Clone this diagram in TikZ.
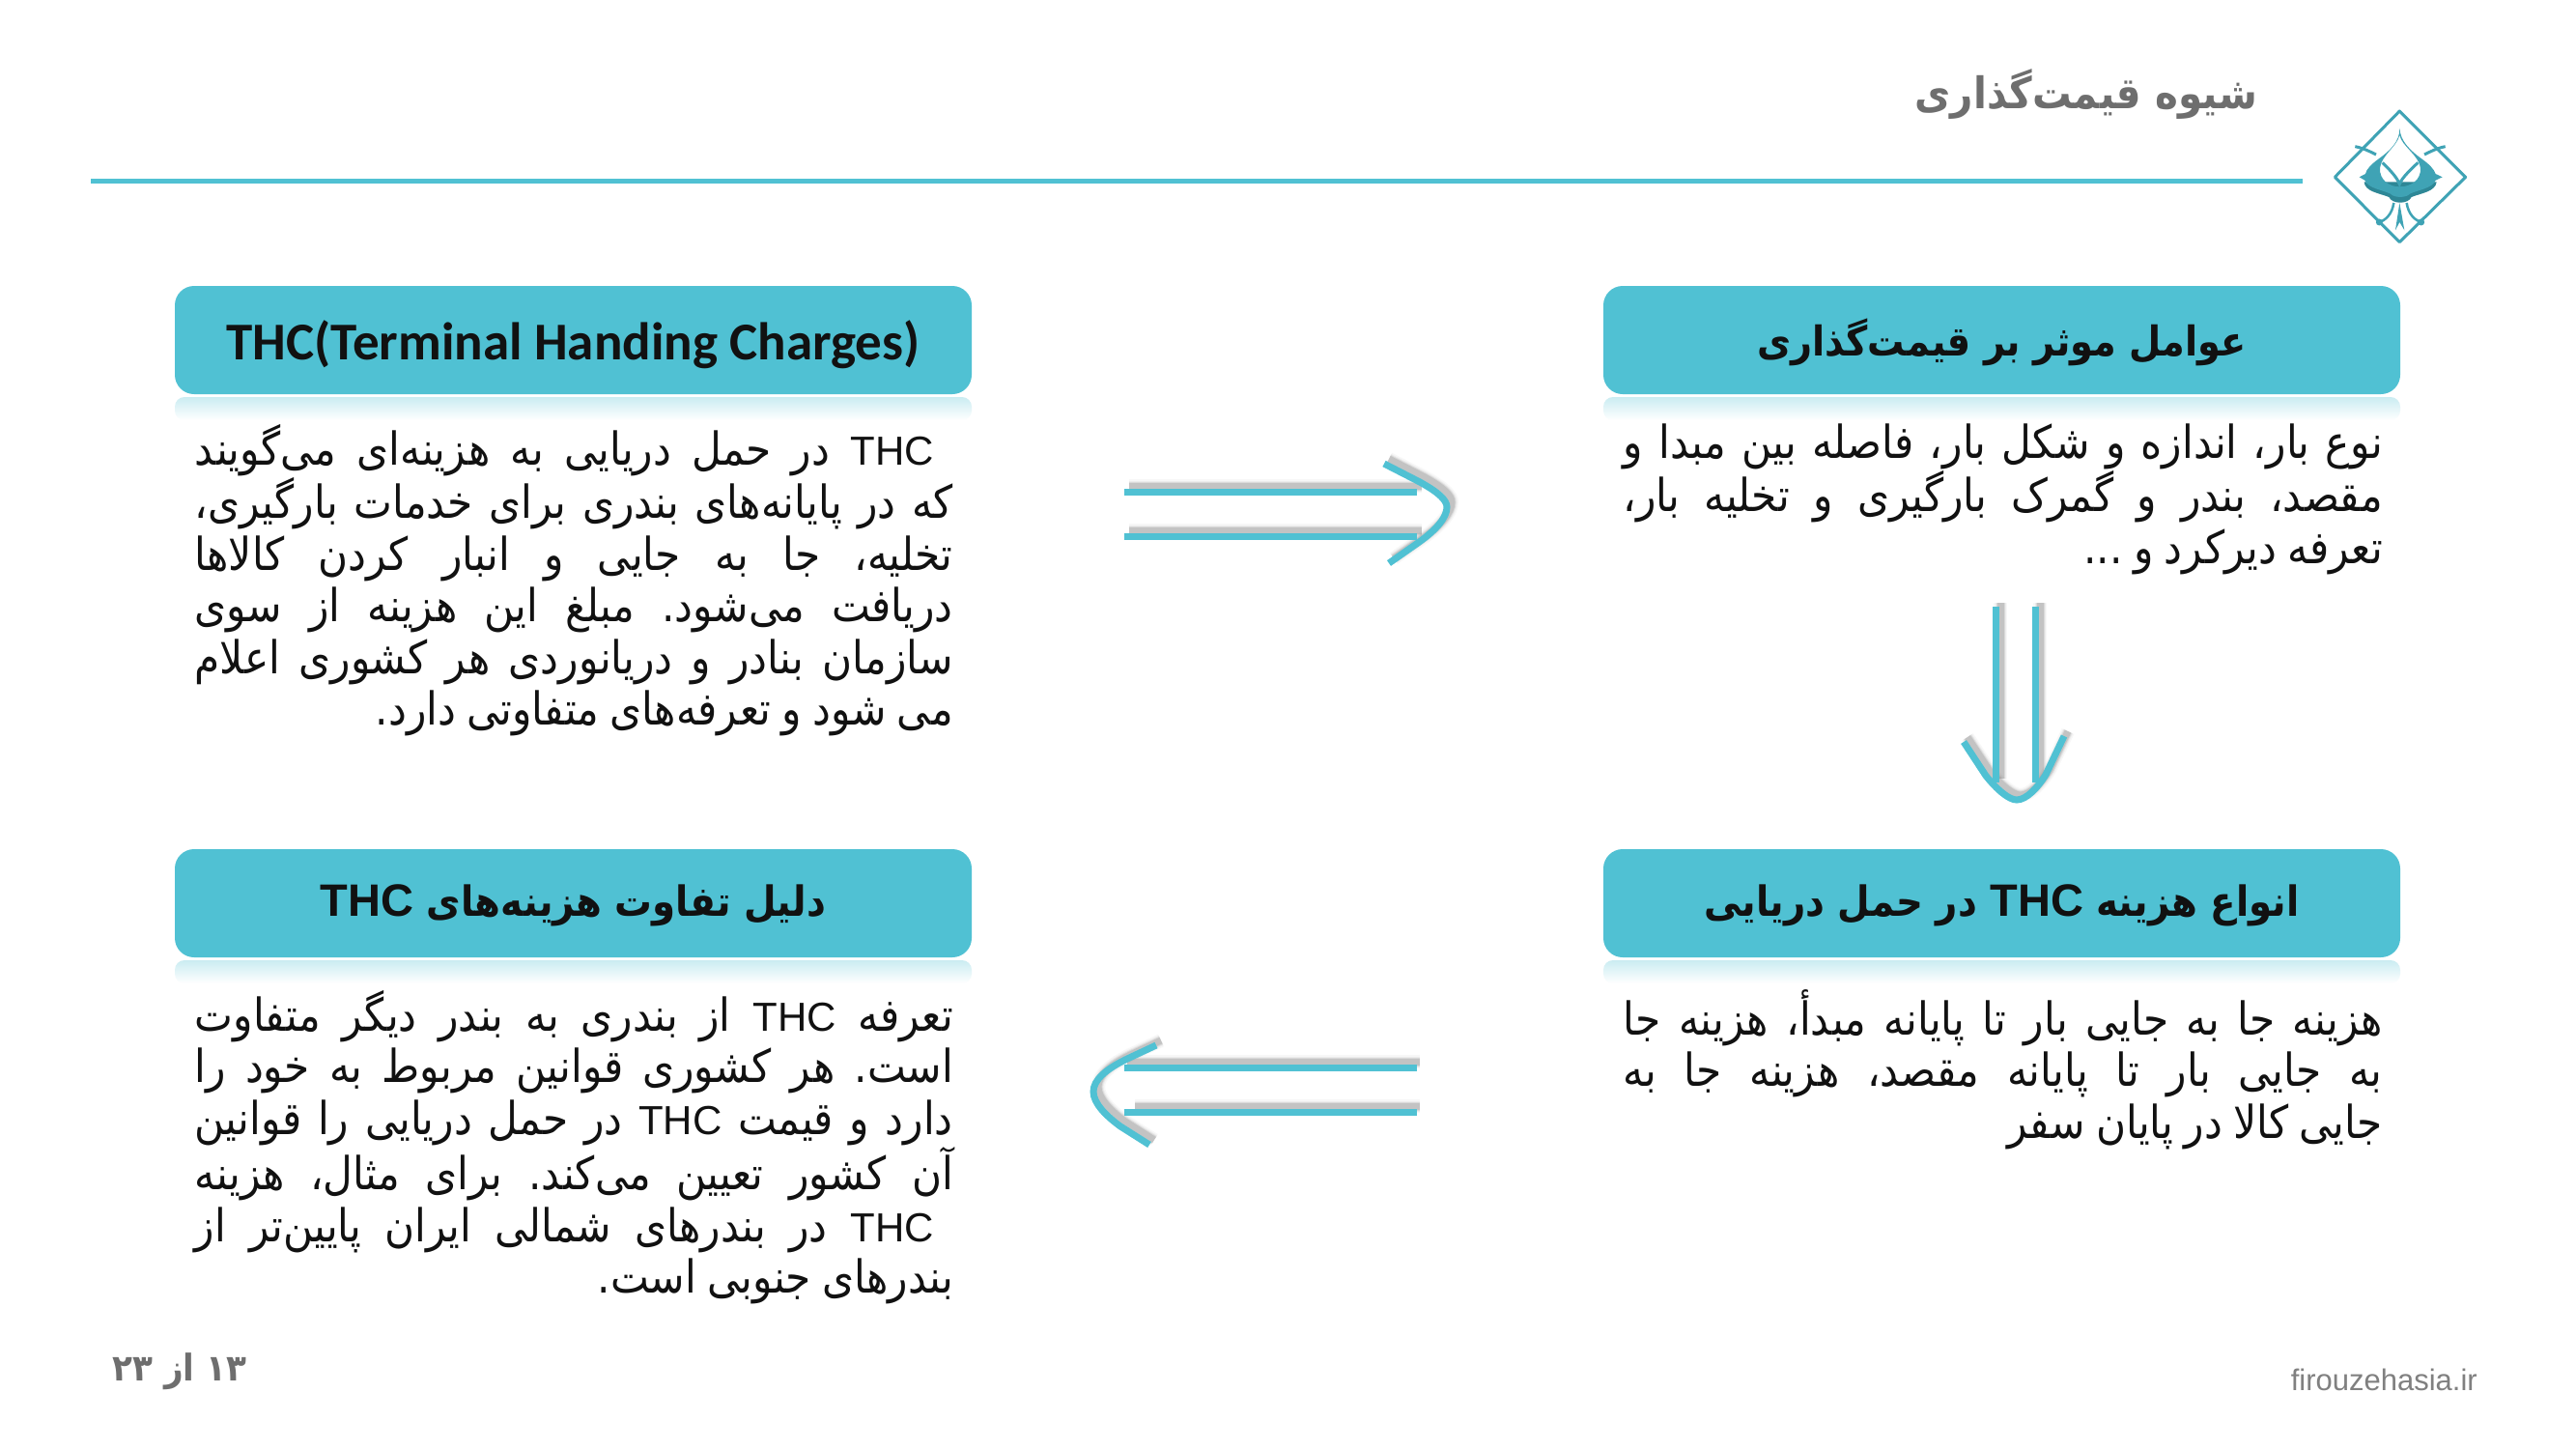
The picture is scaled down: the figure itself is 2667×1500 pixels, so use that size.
\documentclass[tikz,border=0pt]{standalone}
\usepackage{fontspec}
\usetikzlibrary{calc}
\TeXXeTstate=1
\setmainfont{Liberation Sans}
\newfontfamily\fa[Script=Arabic,FakeStretch=0.9]{DejaVu Sans}
\newfontfamily\la{Liberation Sans}
\newfontfamily\cb{Carlito}
\definecolor{cy}{HTML}{50C1D3}
\definecolor{logoc}{HTML}{3FA3B5}
\definecolor{logod}{HTML}{2E8796}
\definecolor{txt}{HTML}{111111}
\definecolor{gr}{HTML}{6E6E6E}
\newlength{\bw}
\frenchspacing
\newcommand{\thc}{\beginL{\fontsize{42}{44}\la THC}\endL}
\newcommand{\jl}[1]{\hbox to \bw{\vrule height 40pt depth 13.5pt width 0pt\beginR\spaceskip=.24em plus 1fil minus .1em #1\endR}}
\newcommand{\lln}[1]{\hbox to \bw{\vrule height 40pt depth 13.5pt width 0pt\beginR\spaceskip=.24em minus .1em #1\hfill\endR}}
\newcommand{\blk}[3]{\setlength{\bw}{#1}\fontsize{#2}{53.5}\fa\vbox{\offinterlineskip #3}}
\newcommand{\softstroke}[3]{%
 \foreach \sw/\op in {14/.05,11/.08,9/.14,7/.22}{
  \draw[line width=\sw pt,black!55,opacity=\op,transform canvas={xshift=#1pt,yshift=#2pt}] #3;}}
\tikzset{
 hdr/.style={fill=cy,rounded corners=20pt,inner sep=0pt,minimum width=825pt,minimum height=112pt,text=txt,align=center},
 body/.style={anchor=north east,inner sep=0pt,text=txt},
 lnk/.style={draw=cy,line width=7pt},
 refl/.style={top color=cy!30,bottom color=white,draw=none},
}
\newcommand{\reflection}[2]{\shade[refl,rounded corners=10pt] (#1,#2) -- (#1+825,#2) -- (#1+825,#2+24) -- (#1,#2+24) -- cycle;}
\begin{document}
\begin{tikzpicture}[x=1pt,y=-1pt]
\useasboundingbox (0,0) rectangle (2667,1500);
\fill[white] (0,0) rectangle (2667,1500);
% title and rule
\node[inner sep=0pt,text=gr,anchor=east] (title) at (2337,98) {\fontsize{45}{50}\fa\bfseries\beginR شیوه قیمت‌گذاری\endR};
\coordinate (ruleL) at (94,187);
\coordinate (ruleR) at (2384,187);
\draw[cy,line width=5pt] (ruleL) -- (ruleR);
% logo
\begin{scope}[shift={(2300,40)},x=.3333pt,y=-.3333pt]
\draw[logoc,line width=3pt,line join=round] (553,225) -- (758,430) -- (553,632) -- (352,430) -- cycle;
\draw[logoc,line width=3pt] (415,335) .. controls (440,340) and (460,350) .. (480,360);
\draw[logoc,line width=3pt] (695,335) .. controls (670,340) and (650,350) .. (630,360);
\draw[logoc,line width=2.5pt] (535,510) .. controls (530,545) and (510,565) .. (485,572);
\draw[logoc,line width=2.5pt] (575,510) .. controls (580,545) and (600,565) .. (625,572);
\fill[logoc] (490,570) circle (3.5pt);
\fill[logoc] (620,570) circle (3.5pt);
\fill[logoc] (553,510) -- (540,595) -- (553,570) -- (568,595) -- cycle;
\fill[logod] (443,445) .. controls (445,475) and (490,480) .. (520,492) .. controls (530,515) and (580,515) .. (590,492) .. controls (620,480) and (665,475) .. (668,445) -- cycle;
\fill[logoc,even odd rule]
 (553,278) .. controls (555,320) and (520,350) .. (490,372) .. controls (465,390) and (450,405) .. (447,420) -- (428,430) -- (445,440) .. controls (455,465) and (500,470) .. (525,482) .. controls (535,495) and (575,495) .. (585,482) .. controls (610,470) and (655,465) .. (665,440) -- (686,430) -- (665,420) .. controls (660,405) and (645,390) .. (620,372) .. controls (590,350) and (555,320) .. (553,278) -- cycle
 (553,300) .. controls (545,335) and (497,362) .. (492,402) .. controls (490,438) and (520,460) .. (553,460) .. controls (590,460) and (620,438) .. (618,402) .. controls (613,362) and (561,335) .. (553,300) -- cycle;
\draw[logoc,line width=3pt] (500,385) .. controls (520,405) and (545,430) .. (553,452) .. controls (561,430) and (590,405) .. (610,385);
\end{scope}
% reflections
\reflection{181}{411}
\reflection{1660}{411}
\reflection{181}{994}
\reflection{1660}{994}
% header boxes
\node[hdr] (h1) at (2072.5,352) {\raisebox{-2pt}[\height][\depth]{\fontsize{42.5}{48}\fa\bfseries\beginR عوامل موثر بر قیمت‌گذاری\endR}};
\node[hdr] (h2) at (593.5,352) {\raisebox{-5pt}[\height][\depth]{\fontsize{55}{60}\cb\bfseries THC(Terminal Handing Charges)}};
\node[hdr] (h3) at (2072.5,935) {\raisebox{-2pt}[\height][\depth]{\fontsize{43}{48}\fa\bfseries\beginR انواع هزینه \beginL{\fontsize{47}{50}\la THC}\endL{} در حمل دریایی\endR}};
\node[hdr] (h4) at (593.5,935) {\raisebox{-2pt}[\height][\depth]{\fontsize{43}{48}\fa\bfseries\beginR دلیل تفاوت هزینه‌های \beginL{\fontsize{47}{50}\la THC}\endL\endR}};
% bodies
\node[body] (b1) at (2467,434) {\blk{786pt}{47}{%
 \jl{نوع بار، اندازه و شکل بار، فاصله بین مبدا و}
 \jl{مقصد، بندر و گمرک بارگیری و تخلیه بار،}
 \lln{تعرفه دیرکرد و ...}}};
\node[body] (b2) at (987,439) {\blk{785pt}{47}{%
 \jl{\kern 20pt\thc{} در حمل دریایی به هزینه‌ای می‌گویند}
 \jl{که در پایانه‌های بندری برای خدمات بارگیری،}
 \jl{تخلیه، جا به جایی و انبار کردن کالاها}
 \jl{دریافت می‌شود. مبلغ این هزینه از سوی}
 \jl{سازمان بنادر و دریانوردی هر کشوری اعلام}
 \lln{می شود و تعرفه‌های متفاوتی دارد.}}};
\node[body] (b3) at (2467,1024) {\blk{786pt}{47}{%
 \jl{هزینه جا به جایی بار تا پایانه مبدأ، هزینه جا}
 \jl{به جایی بار تا پایانه مقصد، هزینه جا به}
 \lln{جایی کالا در پایان سفر}}};
\node[body] (b4) at (987,1025) {\blk{785pt}{47}{%
 \jl{تعرفه \thc{} از بندری به بندر دیگر متفاوت}
 \jl{است. هر کشوری قوانین مربوط به خود را}
 \jl{دارد و قیمت \thc{} در حمل دریایی را قوانین}
 \jl{آن کشور تعیین می‌کند. برای مثال، هزینه}
 \jl{\kern 20pt\thc{} در بندرهای شمالی ایران پایین‌تر از}
 \lln{بندرهای جنوبی است.}}};
% arrow 1 (right)
\coordinate (ra1) at (1164,509); \coordinate (ra2) at (1467,509);
\coordinate (rb1) at (1164,555); \coordinate (rb2) at (1467,555);
\coordinate (rc1) at (1433,480); \coordinate (rc2) at (1498,525); \coordinate (rc3) at (1438,583);
\newcommand{\arR}{(rc1) -- (1470,499) .. controls (1490,510) and (1498,518) .. (rc2) .. controls (1498,535) and (1488,548) .. (1468,562) -- (rc3)}
\softstroke{5}{6}{(ra1) -- (ra2)}
\softstroke{5}{6}{(rb1) -- (rb2)}
\softstroke{5}{5}{\arR}
\draw[lnk] (ra1) -- (ra2);
\draw[lnk] (rb1) -- (rb2);
\draw[lnk] \arR;
% arrow 2 (down)
\coordinate (da1) at (2066,628); \coordinate (da2) at (2066,810);
\coordinate (db1) at (2107,628); \coordinate (db2) at (2107,810);
\coordinate (dc1) at (2033,768); \coordinate (dc2) at (2088,828); \coordinate (dc3) at (2137,762);
\newcommand{\arD}{(dc1) -- (2056,803) .. controls (2068,818) and (2080,828) .. (dc2) .. controls (2098,828) and (2110,815) .. (2118,802) -- (dc3)}
\softstroke{5}{4}{(da1) -- (da2)}
\softstroke{5}{4}{(db1) -- (db2)}
\softstroke{4}{5}{\arD}
\draw[lnk] (da1) -- (da2);
\draw[lnk] (db1) -- (db2);
\draw[lnk] \arD;
% arrow 3 (left)
\coordinate (la1) at (1467,1105); \coordinate (la2) at (1164,1105);
\coordinate (lb1) at (1467,1151); \coordinate (lb2) at (1164,1151);
\coordinate (lc1) at (1197,1082); \coordinate (lc2) at (1132,1130); \coordinate (lc3) at (1190,1185);
\newcommand{\arL}{(lc1) -- (1165,1097) .. controls (1145,1107) and (1132,1118) .. (lc2) .. controls (1132,1142) and (1145,1155) .. (1160,1166) -- (lc3)}
\softstroke{3}{6}{(la1) -- (la2)}
\softstroke{3}{6}{(lb1) -- (1172,1151)}
\softstroke{5}{5}{\arL}
\draw[lnk] (la1) -- (la2);
\draw[lnk] (lb1) -- (lb2);
\draw[lnk] \arL;
% footer
\node[inner sep=0pt,text=gr,anchor=center] (page) at (186,1420) {\fontsize{38}{40}\fa\bfseries\beginR\beginL ۱۳\endL{} از \beginL ۲۳\endL\endR};
\node[inner sep=0pt,text=black!50,anchor=east] (site) at (2565,1428) {\fontsize{31}{34}\la firouzehasia.ir};
\end{tikzpicture}
\end{document}
